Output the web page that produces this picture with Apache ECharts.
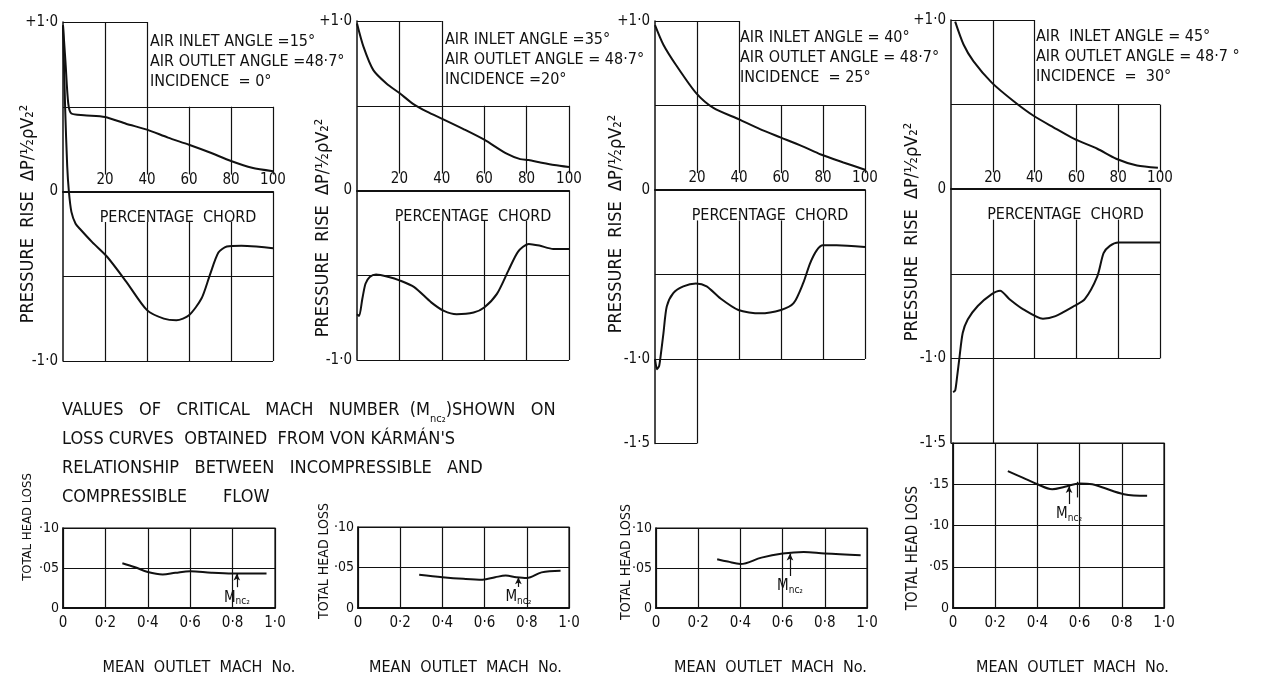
<!DOCTYPE html>
<html><head><meta charset="utf-8">
<script src="https://cdn.jsdelivr.net/npm/echarts@6/dist/echarts.min.js"></script>
<style>html,body{margin:0;padding:0;background:#fff}#c{width:1277px;height:677px}</style>
</head><body><div id="c"></div>
<script>
// ---------- data ----------
const chordTicks = [20, 40, 60, 80, 100];
const pressureTicks = [1, 0, -1, -1.5];
const pressureTickText = ['+1·0', '0', '-1·0', '-1·5'];
const machTickText = ['0', '0·2', '0·4', '0·6', '0·8', '1·0'];
const lossTicks = [0, 0.05, 0.10, 0.15];
const lossTickText = ['0', '·05', '·10', '·15'];

const panelNotes = [
  ['AIR INLET ANGLE =15°', 'AIR OUTLET ANGLE =48·7°', 'INCIDENCE  = 0°'],
  ['AIR INLET ANGLE =35°', 'AIR OUTLET ANGLE = 48·7°', 'INCIDENCE =20°'],
  ['AIR INLET ANGLE = 40°', 'AIR OUTLET ANGLE = 48·7°', 'INCIDENCE  = 25°'],
  ['AIR  INLET ANGLE = 45°', 'AIR OUTLET ANGLE = 48·7 °', 'INCIDENCE  =  30°']
];

// pressure distributions [percentage chord, ΔP/½ρV2²]
const upper15 = [[0,0.98],[1.2,0.76],[2.5,0.52],[4,0.46],[10,0.45],[20,0.44],[30,0.40],[40,0.365],[50,0.318],[60,0.276],[70,0.23],[80,0.18],[90,0.14],[100,0.12]];
const lower15 = [[0,0.98],[1,0.5],[2,0.15],[2.8,0],[4,-0.12],[6,-0.19],[8,-0.22],[14,-0.30],[21,-0.385],[30,-0.53],[40,-0.70],[48,-0.75],[54,-0.76],[60,-0.73],[66,-0.63],[70,-0.49],[74,-0.36],[78,-0.325],[85,-0.32],[92,-0.325],[100,-0.335]];
const upper35 = [[0,0.985],[3,0.85],[7.7,0.71],[14,0.63],[20,0.575],[26.6,0.51],[33,0.465],[40.7,0.42],[50,0.364],[60,0.30],[70.6,0.217],[77,0.185],[81,0.18],[86,0.167],[93,0.15],[100,0.138]];
const lower35 = [[0,-0.73],[1,-0.74],[2.5,-0.64],[4,-0.55],[6,-0.51],[9,-0.495],[15,-0.51],[20,-0.53],[27,-0.57],[35,-0.66],[41,-0.71],[47,-0.73],[55,-0.72],[60,-0.69],[66,-0.61],[71.5,-0.47],[76,-0.36],[81,-0.315],[86,-0.325],[92.6,-0.345],[100,-0.345]];
const upper40 = [[0,0.976],[4,0.86],[10,0.74],[19.5,0.575],[27.8,0.486],[40,0.418],[50,0.36],[60,0.31],[70,0.26],[79,0.21],[89.7,0.163],[100,0.12]];
const lower40 = [[0,-1.0],[1,-1.06],[2,-1.04],[3,-0.95],[4,-0.85],[5.6,-0.69],[8.7,-0.61],[13.5,-0.57],[19.5,-0.553],[24.6,-0.57],[31,-0.64],[39.7,-0.71],[50,-0.73],[60,-0.71],[66,-0.67],[70.6,-0.55],[73.8,-0.435],[77,-0.357],[80,-0.327],[86.5,-0.327],[100,-0.337]];
const upper45 = [[2,0.99],[6,0.855],[10.7,0.757],[19.5,0.63],[30,0.52],[39.5,0.434],[49,0.366],[59,0.297],[70,0.239],[79,0.18],[89,0.14],[99,0.127]];
const lower45 = [[1,-1.20],[2,-1.19],[3,-1.10],[4,-1.0],[5.6,-0.85],[8,-0.77],[12.8,-0.69],[19.5,-0.62],[23.5,-0.60],[28,-0.65],[34.6,-0.71],[44,-0.765],[50,-0.75],[59,-0.69],[64,-0.65],[70,-0.515],[73,-0.378],[76,-0.335],[80,-0.315],[90,-0.315],[100,-0.315]];

// total head loss vs mean outlet Mach number
const loss15 = [[0.28,0.056],[0.34,0.051],[0.40,0.045],[0.47,0.042],[0.53,0.044],[0.60,0.046],[0.70,0.044],[0.80,0.043],[0.96,0.043]];
const loss35 = [[0.29,0.041],[0.40,0.038],[0.50,0.036],[0.59,0.035],[0.65,0.038],[0.70,0.040],[0.75,0.038],[0.80,0.037],[0.87,0.044],[0.96,0.046]];
const loss40 = [[0.29,0.061],[0.34,0.058],[0.40,0.055],[0.50,0.063],[0.60,0.068],[0.70,0.070],[0.80,0.068],[0.97,0.066]];
const loss45 = [[0.26,0.166],[0.33,0.158],[0.40,0.150],[0.47,0.144],[0.53,0.147],[0.60,0.151],[0.66,0.150],[0.71,0.146],[0.81,0.138],[0.92,0.136]];

// critical Mach number markers
const mncMach = [0.82, 0.76, 0.635, 0.55];
const mncLoss = [0.043, 0.038, 0.068, 0.148];
const mncTail = [0.026, 0.026, 0.040, 0.126];

// ---------- layout ----------
const FONT = "'DejaVu Sans Condensed','Liberation Sans',sans-serif";
const INK = '#111';
const topGrids = [
  {left:63, top:22, width:210, height:339, min:-1},
  {left:357, top:21, width:212, height:339, min:-1},
  {left:655, top:21, width:210, height:422.5, min:-1.5},
  {left:951, top:20, width:209, height:423, min:-1.5}
];
const lossGrids = [
  {left:63, top:528, width:212, height:84, max:0.1, namePad:60},
  {left:358, top:527, width:211, height:85, max:0.1, namePad:4},
  {left:656, top:528, width:211, height:84, max:0.1, namePad:18},
  {left:953, top:443, width:211, height:168, max:0.2, namePad:28}
];
const uppers = [upper15, upper35, upper40, upper45];
const lowers = [lower15, lower35, lower40, lower45];
const losses = [loss15, loss35, loss40, loss45];
const textPos = [[150,32],[445,30],[740,28],[1036,27]];

function frameSegs(min) {
  const s = [];
  const add = (a,b,c,d) => s.push([{coord:[a,b]},{coord:[c,d]}]);
  add(0,1,40,1);
  add(0,0.5,100,0.5);
  add(0,-0.5,100,-0.5);
  add(0,-1,100,-1);
  add(20,1,20,0.1); add(40,1,40,0.1);
  add(60,0.5,60,0.1); add(80,0.5,80,0.1);
  add(100,0.5,100,0.1); add(100,0,100,-1);
  [20,40,60,80].forEach(x => add(x,-0.18,x,-1));
  if (min < -1) { add(20,-1,20,-1.5); add(0,-1.5,20,-1.5); }
  return s;
}

const grid = [], xAxis = [], yAxis = [], series = [], title = [], graphic = [];
const rich = {m:{fontSize:18,fontFamily:FONT,color:INK}, s:{fontSize:11,fontFamily:FONT,color:INK,verticalAlign:'bottom',padding:[9,0,0,0]}};

topGrids.forEach((g, i) => {
  grid.push({left:g.left, top:g.top, width:g.width, height:g.height});
  const zeroOffset = -g.height * (0 - g.min) / (1 - g.min);
  xAxis.push({
    type:'value', gridIndex:i, min:0, max:100, interval:20, position:'bottom', offset:zeroOffset,
    axisLine:{show:true, onZero:false, lineStyle:{color:INK, width:2}},
    axisTick:{show:false}, splitLine:{show:false},
    axisLabel:{inside:true, margin:4, fontSize:15, fontFamily:FONT, color:INK,
      formatter: v => chordTicks.indexOf(v) >= 0 ? String(v) : ''},
    name:'PERCENTAGE  CHORD', nameLocation:'middle', nameGap:18,
    nameTextStyle:{fontSize:16, fontFamily:FONT, color:INK, padding:[0,0,0,20]}
  });
  yAxis.push({
    type:'value', gridIndex:i, min:g.min, max:1, interval:0.5,
    axisLine:{show:true, onZero:false, lineStyle:{color:INK, width:1.5}},
    axisTick:{show:false}, splitLine:{show:false},
    axisLabel:{margin:5, fontSize:15, fontFamily:FONT, color:INK,
      formatter: v => { const k = pressureTicks.findIndex(t => Math.abs(t - v) < 1e-6); return k >= 0 ? pressureTickText[k] : ''; }}
  });
  series.push({
    type:'line', xAxisIndex:i, yAxisIndex:i, data:uppers[i], smooth:0.25, symbol:'none',
    lineStyle:{color:INK, width:2}, silent:true,
    markLine:{silent:true, symbol:['none','none'], label:{show:false},
      lineStyle:{color:INK, width:1.2, type:'solid'}, data:frameSegs(g.min), animation:false}
  });
  series.push({
    type:'line', xAxisIndex:i, yAxisIndex:i, data:lowers[i], smooth:0.25, symbol:'none',
    lineStyle:{color:INK, width:2}, silent:true
  });
  title.push({
    left:textPos[i][0], top:textPos[i][1], padding:0,
    text:panelNotes[i].join('\n'),
    textStyle:{fontSize:16, lineHeight:20, fontWeight:'normal', fontFamily:FONT, color:INK}
  });
});

lossGrids.forEach((g, j) => {
  const i = j + 4;
  grid.push({left:g.left, top:g.top, width:g.width, height:g.height, show:true, borderColor:INK, borderWidth:1.2});
  xAxis.push({
    type:'value', gridIndex:i, min:0, max:1, interval:0.2,
    axisLine:{show:true, onZero:false, lineStyle:{color:INK, width:2}},
    axisTick:{show:false},
    splitLine:{show:true, lineStyle:{color:INK, width:1.2}},
    axisLabel:{margin:8, fontSize:15, fontFamily:FONT, color:INK, formatter:(v) => machTickText[Math.round(v*5)]},
    name:'MEAN  OUTLET  MACH  No.', nameLocation:'middle', nameGap:52,
    nameTextStyle:{fontSize:16, fontFamily:FONT, color:INK, padding:[0,0,0,g.namePad]}
  });
  yAxis.push({
    type:'value', gridIndex:i, min:0, max:g.max, interval:0.05,
    axisLine:{show:true, onZero:false, lineStyle:{color:INK, width:1.5}},
    axisTick:{show:false},
    splitLine:{show:true, lineStyle:{color:INK, width:1.2}},
    axisLabel:{margin:4, fontSize:14, fontFamily:FONT, color:INK,
      formatter: v => { const k = lossTicks.findIndex(t => Math.abs(t - v) < 1e-6); return k < 0 ? '' : lossTickText[k]; }}
  });
  const ml = [[{coord:[mncMach[j], mncTail[j]], symbol:'none'},{coord:[mncMach[j], mncLoss[j]], symbol:'arrow'}]];
  if (j === 3) ml.push([{coord:[0.59,0.134], symbol:'none', label:{show:false}},{coord:[0.59,0.153], symbol:'none'}]);
  series.push({
    type:'line', xAxisIndex:i, yAxisIndex:i, data:losses[j], smooth:0.35, symbol:'none',
    lineStyle:{color:INK, width:2}, silent:true,
    markLine:{silent:true, symbolSize:[5,7], animation:false,
      lineStyle:{color:INK, width:1.2, type:'solid'},
      label:{show:true, position:'start', distance:2, formatter:'{m|M}{s|nc₂}', rich:{m:{fontSize:15,fontFamily:FONT,color:INK},s:{fontSize:10,fontFamily:FONT,color:INK,verticalAlign:'bottom',padding:[7,0,0,0]}}},
      data: ml}
  });
});

// explanatory note
title.push({
  left:62, top:396, padding:0,
  text:'VALUES   OF   CRITICAL   MACH   NUMBER  ({m|M}{s|nc₂})SHOWN   ON\nLOSS CURVES  OBTAINED  FROM VON KÁRMÁN\'S\nRELATIONSHIP   BETWEEN   INCOMPRESSIBLE   AND\nCOMPRESSIBLE       FLOW',
  textStyle:{fontSize:18, lineHeight:29, fontWeight:'normal', fontFamily:FONT, color:INK, rich:rich}
});

// vertical axis titles
const yName = 'PRESSURE  RISE  ΔP/½ρV₂²';
[[28,214],[323,228],[616,224],[912,232]].forEach(p => graphic.push({
  type:'text', x:p[0], y:p[1], rotation:Math.PI/2, silent:true,
  style:{text:yName, fontSize:18, fontFamily:FONT, fill:INK, align:'center', verticalAlign:'middle', textAlign:'center', textVerticalAlign:'middle'}
}));
[[28,527,13],[324,561,14],[626,562,14],[913,548,15]].forEach(p => graphic.push({
  type:'text', x:p[0], y:p[1], rotation:Math.PI/2, silent:true,
  style:{text:'TOTAL HEAD LOSS', fontSize:p[2], fontFamily:FONT, fill:INK, align:'center', verticalAlign:'middle', textAlign:'center', textVerticalAlign:'middle'}
}));

const chart = echarts.init(document.getElementById('c'), null, {renderer:'canvas'});
chart.setOption({backgroundColor:'#fff', animation:false, title, grid, xAxis, yAxis, series, graphic});
</script>
</body></html>
